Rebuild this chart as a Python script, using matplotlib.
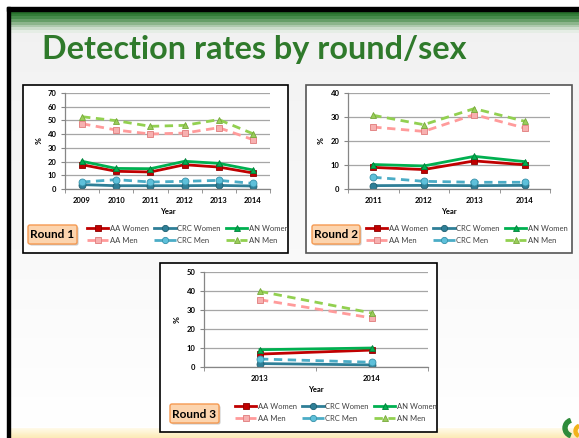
import numpy as np
import matplotlib.pyplot as plt
from matplotlib.patches import Rectangle, FancyBboxPatch, Wedge
from matplotlib.transforms import Bbox, TransformedBbox

W, H = 579, 438

# %% data
r1_years = ['2009', '2010', '2011', '2012', '2013', '2014']
r1_aa_women = [17.7, 12.9, 12.4, 17.7, 16.0, 11.7]
r1_aa_men = [47.6, 43.0, 40.1, 40.8, 44.7, 36.0]
r1_crc_women = [3.2, 2.4, 2.4, 2.4, 2.6, 2.2]
r1_crc_men = [5.1, 6.8, 5.1, 5.6, 6.3, 4.1]
r1_an_women = [20.2, 15.0, 14.8, 20.2, 18.7, 13.9]
r1_an_men = [52.7, 49.8, 45.7, 46.4, 50.6, 40.3]

r2_years = ['2011', '2012', '2013', '2014']
r2_aa_women = [9.0, 8.1, 11.7, 10.1]
r2_aa_men = [25.8, 24.0, 31.0, 25.4]
r2_crc_women = [1.4, 1.5, 1.4, 1.5]
r2_crc_men = [4.9, 3.2, 2.8, 2.8]
r2_an_women = [10.2, 9.6, 13.6, 11.4]
r2_an_men = [30.7, 26.8, 33.5, 28.2]

r3_years = ['2013', '2014']
r3_aa_women = [6.8, 8.9]
r3_aa_men = [35.4, 25.8]
r3_crc_women = [1.8, 1.1]
r3_crc_men = [4.2, 2.5]
r3_an_women = [9.1, 10.0]
r3_an_men = [39.8, 28.4]

labels = ['AA Women', 'AA Men', 'CRC Women', 'CRC Men', 'AN Women', 'AN Men']
# colour, marker, face, edge, linestyle
styles = [
    ('#C00000', 's', '#C00000', '#8C0000', '-'),
    ('#FF9B9B', 's', '#F7B0B0', '#E07A7A', '--'),
    ('#2F7F97', 'o', '#2F7F97', '#1F5F70', '-'),
    ('#4BACC6', 'o', '#5EC0DA', '#3590A8', '--'),
    ('#00B050', '^', '#00B050', '#00803A', '-'),
    ('#92D050', '^', '#9ACD5A', '#76A93A', '--'),
]

plt.rcParams['font.family'] = ['Lato', 'DejaVu Sans']

fig = plt.figure(figsize=(W / 100, H / 100), dpi=100)

# %% slide background
bg = fig.add_axes([0, 0, 1, 1])
bg.axis('off')
grad = np.linspace(0, 1, 200)[:, None]
bgcol = np.array([0.945, 0.945, 0.945]) * (1 - grad[..., None]) + np.array([1.0, 1.0, 1.0]) * grad[..., None]
bg.imshow(bgcol, extent=(10, W, 428, 11), aspect='auto', zorder=0)
# green header, banded
hdr = np.array([[0.16, 0.45, 0.18], [0.20, 0.49, 0.22], [0.28, 0.55, 0.30],
                [0.40, 0.62, 0.41], [0.55, 0.71, 0.55], [0.68, 0.79, 0.68],
                [0.80, 0.87, 0.80], [0.90, 0.93, 0.90]])
bg.imshow(hdr[:, None, :], extent=(10, W, 33, 11), aspect='auto', zorder=1,
          interpolation='nearest')
# yellow footer
steps = np.linspace(0, 1, 8)[:, None]
fgr = np.array([1.0, 0.98, 0.91]) * (1 - steps) + np.array([0.99, 0.92, 0.72]) * steps
bg.imshow(fgr[:, None, :], extent=(10, W, 438, 428), aspect='auto', zorder=1)
bg.add_patch(Rectangle((7, 7), W - 7, 4, color='black', zorder=2))
bg.add_patch(Rectangle((7, 7), 3, H - 7, color='black', zorder=2))
# little logo
bg.add_patch(Wedge((573, 428), 10, 110, 250, width=4, color='#2E8B3A', zorder=2))
bg.add_patch(Wedge((581, 431), 7, 120, 245, width=3, color='#F2B21B', zorder=2))
bg.set_xlim(0, W)
bg.set_ylim(H, 0)

fig.text(42 / W, 1 - 49 / H, 'Detection rates by round/sex', fontsize=23.3,
         fontweight='bold', color='#2F7A2B', va='center', ha='left')


def add_px_axes(x0, y0, x1, y1):
    return fig.add_axes([x0 / W, 1 - y1 / H, (x1 - x0) / W, (y1 - y0) / H])


def draw_panel(box, area, years, series, ymax, ylab_x, year_y, round_box, round_text,
               leg_xy, edge='black'):
    bx0, by0, bx1, by1 = box
    bg.add_patch(Rectangle((bx0, by0), bx1 - bx0, by1 - by0, facecolor='white',
                           edgecolor=edge, lw=1.2, zorder=3))
    ax = add_px_axes(*area)
    ax.set_facecolor('none')
    x = np.arange(len(years))
    handles = []
    for vals, (c, m, fc, ec, ls) in zip(series, styles):
        h, = ax.plot(x, vals, color=c, ls=ls, lw=2, marker=m, ms=5,
                     mfc=fc, mec=ec, mew=0.6, dashes=(3, 2) if ls == '--' else (None, None))
        handles.append(h)
    ax.set_xlim(-0.5, len(years) - 0.5)
    ax.set_ylim(0, ymax)
    ax.set_yticks(np.arange(0, ymax + 1, 10))
    ax.set_xticks(x)
    ax.set_xticklabels(years)
    ax.set_xticks(np.arange(-0.5, len(years)), minor=True)
    ax.tick_params(axis='x', which='major', length=0, pad=6)
    ax.tick_params(axis='x', which='minor', length=3, color='#868686')
    ax.tick_params(axis='y', length=3, color='#868686', pad=3)
    for lab in ax.get_xticklabels() + ax.get_yticklabels():
        lab.set_fontsize(5.5)
        lab.set_fontweight('bold')
    ax.grid(axis='y', color='#A6A6A6', lw=0.9)
    ax.set_axisbelow(True)
    for s in ['top', 'right']:
        ax.spines[s].set_visible(False)
    for s in ['left', 'bottom']:
        ax.spines[s].set_color('#868686')
        ax.spines[s].set_linewidth(0.9)
    cx = (area[0] + area[2]) / 2
    fig.text(cx / W, 1 - year_y / H, 'Year', fontsize=5.5, fontweight='bold',
             ha='center', va='center')
    fig.text(ylab_x / W, 1 - (area[1] + area[3]) / 2 / H, '%', fontsize=6,
             fontweight='bold', rotation=90, ha='center', va='center')
    rx0, ry0, rx1, ry1 = round_box
    bg.add_patch(FancyBboxPatch((rx0 + 1.5, ry0 + 1.5), rx1 - rx0, ry1 - ry0,
                                boxstyle='round,pad=0,rounding_size=2', facecolor='#C8C8C8',
                                edgecolor='none', zorder=4))
    bg.add_patch(FancyBboxPatch((rx0, ry0), rx1 - rx0, ry1 - ry0,
                                boxstyle='round,pad=0,rounding_size=2', facecolor='#FCD4AE',
                                edgecolor='#F59A52', lw=1, zorder=5))
    bg.text((rx0 + rx1) / 2, (ry0 + ry1) / 2 + 0.5, round_text, fontsize=8.5,
            fontweight='bold', ha='center', va='center', zorder=6)
    leg = fig.legend(handles, labels, ncol=3, loc='upper left',
                     bbox_to_anchor=(leg_xy[0] / W, 1 - leg_xy[1] / H),
                     frameon=False, fontsize=5.5, handlelength=2.8, handletextpad=0.15,
                     columnspacing=0.75, labelspacing=0.65, borderpad=0, borderaxespad=0,
                     markerscale=0.9)
    clip = TransformedBbox(Bbox.from_extents(bx0 / W, 1 - by1 / H, bx1 / W, 1 - by0 / H),
                           fig.transFigure)
    for t in leg.get_texts():
        t.set_color('#404040')
        t.set_clip_box(clip)
        t.set_clip_on(True)
    return ax


draw_panel((23, 85, 288, 253), (65, 93, 270, 189), r1_years,
           [r1_aa_women, r1_aa_men, r1_crc_women, r1_crc_men, r1_an_women, r1_an_men],
           70, 39, 212, (28, 225, 77, 244), 'Round 1', (87, 225))
draw_panel((306, 85, 572, 253), (348, 93, 550, 189), r2_years,
           [r2_aa_women, r2_aa_men, r2_crc_women, r2_crc_men, r2_an_women, r2_an_men],
           40, 321, 212, (312, 225, 360, 244), 'Round 2', (366, 225), edge='#555555')
draw_panel((160, 263, 437, 432), (204, 272, 428, 367), r3_years,
           [r3_aa_women, r3_aa_men, r3_crc_women, r3_crc_men, r3_an_women, r3_an_men],
           50, 177, 390, (170, 404, 219, 423), 'Round 3', (235, 403))

fig.savefig('out.png', dpi=100)
